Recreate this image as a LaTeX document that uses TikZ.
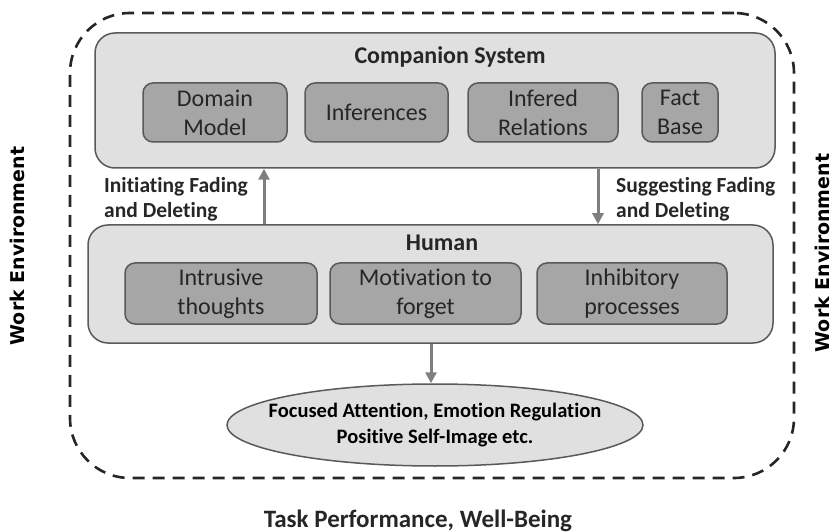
\documentclass[tikz,border=0pt]{standalone}
\usepackage{fontspec}
\setmainfont{Carlito}[Ligatures=NoCommon]
\newfontfamily\sidefont{DejaVu Sans}
\usetikzlibrary{shapes.geometric,arrows.meta}
\definecolor{ink}{HTML}{262626}
\definecolor{edge}{HTML}{595959}
\definecolor{panel}{HTML}{E0E0E0}
\definecolor{cell}{HTML}{A6A6A6}
\definecolor{link}{HTML}{7F7F7F}
\definecolor{frame}{HTML}{262626}

\begin{document}
\begin{tikzpicture}[x=1pt,y=-1pt,
  panelbox/.style={draw=edge, line width=1.5pt, fill=panel, rounded corners=20pt, inner sep=0pt},
  cellbox/.style={draw=edge, line width=1.5pt, fill=cell, rounded corners=10pt, inner sep=0pt,
    text=ink, align=center, font=\fontsize{24}{29}\selectfont},
  headtext/.style={text=ink, inner sep=0pt, font=\bfseries\fontsize{24}{28}\selectfont},
  notetext/.style={text=ink, inner sep=0pt, align=left, font=\bfseries\fontsize{21.5}{25}\selectfont},
  sidelabel/.style={text=black, inner sep=0pt, rotate=90, font=\sidefont\bfseries\fontsize{19}{23}\selectfont},
  flow/.style={draw=link, line width=3pt, -{Triangle[length=11pt,width=11pt]}},
  envframe/.style={draw=frame, line width=2.6pt, dash pattern=on 12pt off 8pt, rounded corners=60pt, inner sep=0pt}
]
\useasboundingbox (0,0) rectangle (831,532);
\clip (0,0) rectangle (831,532);

% outer work-environment frame
\node[envframe, minimum width=724, minimum height=465] (env) at (432,245.5) {};

% companion system
\node[panelbox, minimum width=680, minimum height=135] (comp) at (435,100.5) {};
\node[headtext, anchor=base] (comptitle) at (450,64) {Companion System};
\node[cellbox, minimum width=144, minimum height=59] (dom) at (215,112.5) {Domain\\Model};
\node[cellbox, minimum width=143, minimum height=59] (inf) at (376.5,112.5) {Inferences};
\node[cellbox, minimum width=150, minimum height=59] (rel) at (543,112.5) {Infered\\Relations};
\node[cellbox, minimum width=76, minimum height=59] (fact) at (680,112.5) {Fact\\Base};

% human
\node[panelbox, minimum width=685, minimum height=118] (hum) at (430.5,284) {};
\node[headtext, anchor=base] (humtitle) at (442,251) {Human};
\node[cellbox, minimum width=192, minimum height=61] (intr) at (221,293.5) {Intrusive\\thoughts};
\node[cellbox, minimum width=191, minimum height=61] (mot) at (425.5,293.5) {Motivation to\\forget};
\node[cellbox, minimum width=190, minimum height=61] (inh) at (632,293.5) {Inhibitory\\processes};

% outcome (negative x padding lets the wide text run close to the rim)
\node[ellipse, draw=edge, line width=1.5pt, fill=panel, minimum width=416, minimum height=82,
      inner xsep=-22pt, inner ysep=0pt, text=black, align=center,
      font=\bfseries\fontsize{20.5}{26}\selectfont] (out) at (435,425)
  {Focused Attention, Emotion Regulation\\Positive Self-Image etc.};

% connectors
\coordinate (upx) at (264,0);
\coordinate (downx) at (598,0);
\coordinate (outx) at (431,0);
\draw[flow] (hum.north -| upx) -- (comp.south -| upx);
\draw[flow] (comp.south -| downx) -- (hum.north -| downx);
\draw[flow] (hum.south -| outx) -- (out.north -| outx);

% connector labels
\node[notetext, anchor=north west] (initlbl) at (104,177) {Initiating Fading\\and Deleting};
\node[notetext, anchor=north west] (suglbl) at (616,177) {Suggesting Fading\\and Deleting};

% surrounding labels
\node[sidelabel] (wel) at (17,246) {Work Environment};
\node[sidelabel] (wer) at (822,253) {Work Environment};
\node[text=ink, inner sep=0pt, anchor=base, font=\bfseries\fontsize{25}{30}\selectfont] (task) at (418,527)
  {Task Performance, Well-Being};
\end{tikzpicture}
\end{document}
